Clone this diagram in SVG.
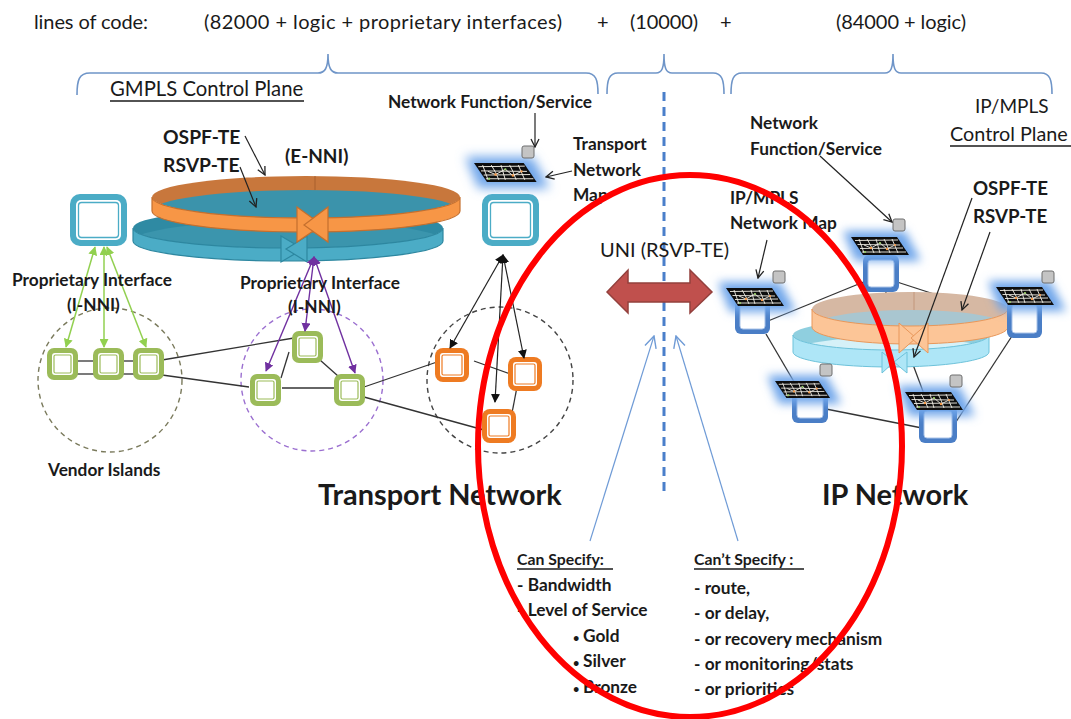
<svg xmlns="http://www.w3.org/2000/svg" xmlns:xlink="http://www.w3.org/1999/xlink" width="1071" height="719" viewBox="0 0 1071 719">
  <style>
    .t { font-family: Lato, "Liberation Sans", sans-serif; fill: #1a1a1a; }
    .b { font-weight: 700; }
    .lbl { font-weight: 700; font-size: 17.3px; }
    .dot { font-size: 11px; }
    .brace { fill: none; stroke: #6f95c8; stroke-width: 1.6; }
    .link { stroke: #333; stroke-width: 1.3; fill: none; }
    .ptr { stroke: #222; stroke-width: 1.2; fill: none; }
    .ul { stroke: #1a1a1a; stroke-width: 1.4; }
    .sq { fill: #c4c4c4; stroke: #6f6f6f; stroke-width: 1; }
  </style>
  <defs>
    <filter id="glow" x="-50%" y="-100%" width="200%" height="300%">
      <feGaussianBlur stdDeviation="5"/>
    </filter>
    <marker id="openK" viewBox="0 0 10 10" refX="9" refY="5" markerWidth="10" markerHeight="10" markerUnits="userSpaceOnUse" orient="auto">
      <path d="M1,1 L9,5 L1,9" fill="none" stroke="#222" stroke-width="1.3"/>
    </marker>
    <marker id="solidK" viewBox="0 0 10 10" refX="9" refY="5" markerWidth="9" markerHeight="9" markerUnits="userSpaceOnUse" orient="auto-start-reverse">
      <path d="M0,0 L10,5 L0,10 z" fill="#111"/>
    </marker>
    <marker id="solidG" viewBox="0 0 10 10" refX="9" refY="5" markerWidth="9" markerHeight="9" markerUnits="userSpaceOnUse" orient="auto-start-reverse">
      <path d="M0,0 L10,5 L0,10 z" fill="#92d050"/>
    </marker>
    <marker id="solidP" viewBox="0 0 10 10" refX="9" refY="5" markerWidth="9" markerHeight="9" markerUnits="userSpaceOnUse" orient="auto-start-reverse">
      <path d="M0,0 L10,5 L0,10 z" fill="#7030a0"/>
    </marker>
    <marker id="openB" viewBox="0 0 12 12" refX="11" refY="6" markerWidth="14" markerHeight="14" markerUnits="userSpaceOnUse" orient="auto">
      <path d="M1,1 L11,6 L1,11" fill="none" stroke="#6f9bd6" stroke-width="1.2"/>
    </marker>

    <!-- network map tile: glowing black grid -->
    <g id="map">
      <polygon points="-8,-6 54,-6 70,24 4,24" fill="#6fa6ea" filter="url(#glow)"/>
      <polygon points="0,0 46,0 58,18 12,18" fill="#0d0d0d"/>
      <path d="M4,3.5 L47,3 M6.5,7.5 L49,8 M9,11.5 L52,11 M11,15 L55,15 M8,2 L13,16 M16,2 L20,9 L23,16 M25,2 L29,16 M33,2 L36,8 L39,16 M41,2 L47,16 M13,8 L20,11 L29,6 L36,12 L44,8" stroke="#f2efe6" stroke-width="0.9" fill="none"/>
      <circle cx="20" cy="11" r="1.2" fill="#f59a4a"/>
      <circle cx="36" cy="12" r="1.2" fill="#f59a4a"/>
      <circle cx="29" cy="6" r="1.1" fill="#9bd36a"/>
      <circle cx="44" cy="8" r="1.1" fill="#f59a4a"/>
      <circle cx="14" cy="15" r="1.1" fill="#9bd36a"/>
    </g>
    <!-- transport (GMPLS) controller box -->
    <g id="tbox">
      <rect x="0" y="0" width="57" height="52" rx="10" fill="#4bacc6"/>
      <rect x="6" y="6" width="45" height="40" rx="5" fill="#fff"/>
      <rect x="8.5" y="8.5" width="40" height="35" rx="3" fill="none" stroke="#4bacc6" stroke-width="1.3"/>
    </g>
    <g id="gbox">
      <rect x="0" y="0" width="31" height="32" rx="7" fill="#9bbb59"/>
      <rect x="5" y="5" width="21" height="22" rx="3" fill="#fff"/>
      <rect x="7" y="7" width="17" height="18" rx="1.5" fill="none" stroke="#9bbb59" stroke-width="1.2"/>
    </g>
    <g id="obox">
      <rect x="0" y="0" width="34" height="34" rx="8" fill="#ee7b22"/>
      <rect x="5" y="5" width="24" height="24" rx="3" fill="#fff"/>
      <rect x="7" y="7" width="20" height="20" rx="1.5" fill="none" stroke="#ee7b22" stroke-width="1.2"/>
    </g>
    <clipPath id="clipTO"><ellipse cx="306" cy="197" rx="154" ry="21"/></clipPath>
    <clipPath id="clipTT"><ellipse cx="288" cy="228" rx="155" ry="20"/></clipPath>
    <clipPath id="clipIO"><ellipse cx="910" cy="309" rx="98" ry="17"/></clipPath>
    <clipPath id="clipIC"><ellipse cx="891" cy="335" rx="98" ry="15"/></clipPath>
  </defs>

  <rect width="1071" height="719" fill="#fff"/>

  <!-- code size header -->
  <g id="header">
    <text class="t" x="34" y="29" font-size="20" textLength="114" lengthAdjust="spacing">lines of code:</text>
    <text class="t" x="204" y="29" font-size="20" textLength="358" lengthAdjust="spacing">(82000 + logic + proprietary interfaces)</text>
    <text class="t" x="597" y="29" font-size="20">+</text>
    <text class="t" x="630" y="29" font-size="20" textLength="68" lengthAdjust="spacing">(10000)</text>
    <text class="t" x="720" y="29" font-size="20">+</text>
    <text class="t" x="836" y="29" font-size="20" textLength="130" lengthAdjust="spacing">(84000 + logic)</text>
    <path class="brace" d="M77,95 C77,80 79,73 90,73 L318,73 C325,73 328,68 328,54 C328,68 331,73 338,73 L586,73 C596,73 598,80 598,94"/>
    <path class="brace" d="M607,94 C607,80 609,73 618,73 L656,73 C662,73 664,68 664,54 C664,68 666,73 672,73 L713,73 C722,73 724,80 724,94"/>
    <path class="brace" d="M731,94 C731,80 733,73 742,73 L885,73 C891,73 893,68 893,54 C893,68 895,73 901,73 L1041,73 C1050,73 1052,80 1052,94"/>
  </g>

  <!-- UNI boundary -->
  <line id="boundary" x1="664" y1="92" x2="664" y2="495" stroke="#4a7fca" stroke-width="3" stroke-dasharray="9 6"/>

  <!-- vendor / domain circles -->
  <g id="domains" fill="none" stroke-width="1.4" stroke-dasharray="5 4">
    <circle cx="110" cy="380" r="72" stroke="#7a7a5c"/>
    <circle cx="312" cy="380" r="71" stroke="#9b6fd0"/>
    <circle cx="500" cy="380" r="73" stroke="#444"/>
  </g>

  <!-- links between network elements -->
  <g id="connectors-links">
    <line class="link" x1="76" y1="361" x2="94" y2="361"/>
    <line class="link" x1="76" y1="374" x2="94" y2="374"/>
    <line class="link" x1="123" y1="361" x2="134" y2="361"/>
    <line class="link" x1="123" y1="374" x2="134" y2="374"/>
    <line class="link" x1="162" y1="360" x2="294" y2="338"/>
    <line class="link" x1="162" y1="375" x2="249" y2="387"/>
    <line class="link" x1="289" y1="352" x2="281" y2="378"/>
    <line class="link" x1="320" y1="360" x2="338" y2="376"/>
    <line class="link" x1="282" y1="388" x2="334" y2="388"/>
    <line class="link" x1="364" y1="387" x2="437" y2="362"/>
    <line class="link" x1="364" y1="397" x2="484" y2="430"/>
    <line class="link" x1="474" y1="361" x2="513" y2="375"/>
    <line class="link" x1="517" y1="387" x2="512" y2="413"/>
    <line class="link" x1="768" y1="321" x2="866" y2="281"/>
    <line class="link" x1="897" y1="282" x2="1008" y2="318"/>
    <line class="link" x1="885" y1="290" x2="930" y2="410"/>
    <line class="link" x1="766" y1="334" x2="800" y2="392"/>
    <line class="link" x1="826" y1="409" x2="922" y2="428"/>
    <line class="link" x1="1012" y1="336" x2="952" y2="428"/>
  </g>

  <!-- GMPLS control plane ring (E-NNI) -->
  <g id="ring-gmpls">
    <!-- teal ring -->
    <ellipse cx="288" cy="228" rx="155" ry="20" fill="#2f8aa3"/>
    <ellipse cx="288" cy="241" rx="155" ry="20" fill="#3b95ad" clip-path="url(#clipTT)"/>
    <path d="M133,228 A155,20 0 0 0 443,228 L443,241 A155,20 0 0 1 133,241 Z" fill="#4bacc6" stroke="#2d87a0" stroke-width="1.2"/>
    <polygon points="281,236 303,249 281,262" fill="#4bacc6" stroke="#2d87a0" stroke-width="1.2"/>
    <polygon points="307,236 286,249 307,262" fill="#4bacc6" stroke="#2d87a0" stroke-width="1.2"/>
    <!-- orange ring -->
    <ellipse cx="306" cy="197" rx="154" ry="21" fill="#c8773c"/>
    <ellipse cx="306" cy="211" rx="154" ry="21" fill="#3b93ab" clip-path="url(#clipTO)"/>
    <line x1="315" y1="176" x2="315" y2="190" stroke="#a8602c" stroke-width="1"/>
    <path d="M152,197 A154,21 0 0 0 460,197 L460,211 A154,21 0 0 1 152,211 Z" fill="#f79646" stroke="#c46f2e" stroke-width="1.2"/>
    <polygon points="297,207 322,225 297,242" fill="#f79646" stroke="#c46f2e" stroke-width="1.2"/>
    <polygon points="328,207 304,225 328,242" fill="#f79646" stroke="#c46f2e" stroke-width="1.2"/>
  </g>

  <!-- IP/MPLS control plane ring -->
  <g id="ring-ip">
    <ellipse cx="891" cy="335" rx="98" ry="15" fill="#8fcfdf"/>
    <ellipse cx="891" cy="352" rx="98" ry="15" fill="#d5f1f8" clip-path="url(#clipIC)"/>
    <path d="M793,335 A98,15 0 0 0 989,335 L989,352 A98,15 0 0 1 793,352 Z" fill="#aee6f7" stroke="#6dc2da" stroke-width="1"/>
    <polygon points="882,352 894,362 882,373" fill="#aee6f7" stroke="#6dc2da" stroke-width="1"/>
    <polygon points="907,352 894,362 907,373" fill="#aee6f7" stroke="#6dc2da" stroke-width="1"/>
    <ellipse cx="910" cy="309" rx="98" ry="17" fill="#d6b8a3"/>
    <ellipse cx="910" cy="327" rx="98" ry="17" fill="#a9c6d0" clip-path="url(#clipIO)"/>
    <line x1="914" y1="292" x2="914" y2="310" stroke="#c2967a" stroke-width="1"/>
    <line x1="897" y1="327" x2="897" y2="343" stroke="#7fb0c0" stroke-width="1"/>
    <path d="M812,309 A98,17 0 0 0 1008,309 L1008,327 A98,17 0 0 1 812,327 Z" fill="#fcc597" stroke="#e8975a" stroke-width="1"/>
    <polygon points="899,323 916,338 899,353" fill="#fcc597" stroke="#e8975a" stroke-width="1"/>
    <polygon points="928,323 911,338 928,353" fill="#fcc597" stroke="#e8975a" stroke-width="1"/>
  </g>

  <!-- transport network elements -->
  <g id="gmpls-ctrl-left"><use xlink:href="#tbox" x="70" y="194"/></g>
  <g id="gmpls-ctrl-right"><use xlink:href="#tbox" x="482" y="194"/></g>
  <g id="transport-map">
    <use xlink:href="#map" transform="translate(474,163) scale(1.08,1.05)"/>
    <rect class="sq" x="522" y="146" width="12" height="12" rx="2"/>
  </g>
  <g id="vendor-1"><use xlink:href="#gbox" x="47" y="348"/></g>
  <g id="vendor-2"><use xlink:href="#gbox" x="93" y="348"/></g>
  <g id="vendor-3"><use xlink:href="#gbox" x="133" y="348"/></g>
  <g id="gmpls-1"><use xlink:href="#gbox" x="292" y="331"/></g>
  <g id="gmpls-2"><use xlink:href="#gbox" x="250" y="374"/></g>
  <g id="gmpls-3"><use xlink:href="#gbox" x="334" y="374"/></g>
  <g id="optical-1"><use xlink:href="#obox" x="435" y="348"/></g>
  <g id="optical-2"><use xlink:href="#obox" x="508" y="357"/></g>
  <g id="optical-3"><use xlink:href="#obox" x="482" y="409"/></g>

  <!-- IP routers with their network maps -->
  <g id="router-a">
    <rect x="735" y="298" width="35" height="36" rx="6" fill="#4a7ec6"/>
    <rect x="740" y="303" width="25" height="26" rx="3" fill="#fff" stroke="#a9c3e8" stroke-width="1"/>
    <use xlink:href="#map" transform="translate(726,288)"/>
    <rect class="sq" x="773" y="271" width="12" height="12" rx="2"/>
  </g>
  <g id="router-b">
    <rect x="863" y="255" width="36" height="37" rx="6" fill="#4a7ec6"/>
    <rect x="868" y="260" width="26" height="27" rx="3" fill="#fff" stroke="#a9c3e8" stroke-width="1"/>
    <use xlink:href="#map" transform="translate(851,237)"/>
    <rect class="sq" x="893" y="219" width="12" height="12" rx="2"/>
  </g>
  <g id="router-c">
    <rect x="1007" y="300" width="35" height="38" rx="6" fill="#4a7ec6"/>
    <rect x="1012" y="305" width="25" height="28" rx="3" fill="#fff" stroke="#a9c3e8" stroke-width="1"/>
    <use xlink:href="#map" transform="translate(996,287)"/>
    <rect class="sq" x="1042" y="271" width="12" height="12" rx="2"/>
  </g>
  <g id="router-d">
    <rect x="792" y="388" width="36" height="35" rx="6" fill="#4a7ec6"/>
    <rect x="797" y="393" width="26" height="25" rx="3" fill="#fff" stroke="#a9c3e8" stroke-width="1"/>
    <use xlink:href="#map" transform="translate(775,381) scale(0.95)"/>
    <rect class="sq" x="820" y="364" width="12" height="12" rx="2"/>
  </g>
  <g id="router-e">
    <rect x="919" y="406" width="38" height="37" rx="6" fill="#4a7ec6"/>
    <rect x="924" y="411" width="28" height="27" rx="3" fill="#fff" stroke="#a9c3e8" stroke-width="1"/>
    <use xlink:href="#map" transform="translate(905,392)"/>
    <rect class="sq" x="950" y="375" width="12" height="12" rx="2"/>
  </g>

  <!-- UNI double arrow -->
  <g id="uni-arrow">
    <polygon points="607,292 628,270 628,283 690,283 690,270 712,292 690,313 690,302 628,302 628,313" fill="#c0504d" stroke="#93403d" stroke-width="1.5"/>
  </g>

  <!-- control-plane and pointer arrows -->
  <g id="connectors-arrows">
    <line x1="95" y1="247" x2="66" y2="347" stroke="#92d050" stroke-width="1.5" marker-start="url(#solidG)" marker-end="url(#solidG)"/>
    <line x1="104" y1="247" x2="104" y2="347" stroke="#92d050" stroke-width="1.5" marker-start="url(#solidG)" marker-end="url(#solidG)"/>
    <line x1="107" y1="247" x2="146" y2="347" stroke="#92d050" stroke-width="1.5" marker-start="url(#solidG)" marker-end="url(#solidG)"/>
    <line x1="314" y1="257" x2="266" y2="371" stroke="#7030a0" stroke-width="1.4" marker-start="url(#solidP)" marker-end="url(#solidP)"/>
    <line x1="314" y1="257" x2="305" y2="331" stroke="#7030a0" stroke-width="1.4" marker-start="url(#solidP)" marker-end="url(#solidP)"/>
    <line x1="314" y1="257" x2="355" y2="373" stroke="#7030a0" stroke-width="1.4" marker-start="url(#solidP)" marker-end="url(#solidP)"/>
    <line x1="503" y1="255" x2="450" y2="348" stroke="#222" stroke-width="1.2" marker-start="url(#solidK)" marker-end="url(#solidK)"/>
    <line x1="503" y1="255" x2="495" y2="402" stroke="#222" stroke-width="1.2" marker-start="url(#solidK)" marker-end="url(#solidK)"/>
    <line x1="503" y1="255" x2="524" y2="358" stroke="#222" stroke-width="1.2" marker-start="url(#solidK)" marker-end="url(#solidK)"/>
    <line class="ptr" x1="245" y1="136" x2="265" y2="175" marker-end="url(#openK)"/>
    <line class="ptr" x1="240" y1="167" x2="256" y2="207" marker-end="url(#openK)"/>
    <line class="ptr" x1="535" y1="113" x2="535" y2="147" marker-end="url(#openK)"/>
    <line class="ptr" x1="572" y1="171" x2="546" y2="177" marker-end="url(#openK)"/>
    <line class="ptr" x1="820" y1="156" x2="892" y2="222" marker-end="url(#openK)"/>
    <line class="ptr" x1="767" y1="240" x2="758" y2="278" marker-end="url(#openK)"/>
    <line class="ptr" x1="972" y1="198" x2="914" y2="357" marker-end="url(#openK)"/>
    <line class="ptr" x1="990" y1="232" x2="962" y2="310" marker-end="url(#openK)"/>
    <line x1="590" y1="541" x2="654" y2="336" stroke="#6f9bd6" stroke-width="1.2" marker-end="url(#openB)"/>
    <line x1="738" y1="541" x2="676" y2="336" stroke="#6f9bd6" stroke-width="1.2" marker-end="url(#openB)"/>
  </g>

  <!-- labels -->
  <g id="labels">
    <text class="t" x="110" y="96" font-size="20.3">GMPLS Control Plane</text>
    <line class="ul" x1="110" y1="101" x2="304" y2="101"/>
    <text class="t lbl" x="388" y="108">Network Function/Service</text>
    <text class="t lbl" x="573" y="150">Transport</text>
    <text class="t lbl" x="573" y="176">Network</text>
    <text class="t lbl" x="573" y="201">Map</text>
    <text class="t b" x="163" y="144" font-size="19.3">OSPF-TE</text>
    <text class="t b" x="163" y="172" font-size="19.3">RSVP-TE</text>
    <text class="t b" x="285" y="163" font-size="19">(E-NNI)</text>
    <text class="t lbl" x="12" y="286">Proprietary Interface</text>
    <text class="t lbl" x="67" y="311">(I-NNI)</text>
    <text class="t lbl" x="240" y="289">Proprietary Interface</text>
    <text class="t lbl" x="288" y="313">(I-NNI)</text>
    <text class="t lbl" x="48" y="476" font-size="17.8">Vendor Islands</text>
    <text class="t b" x="318" y="505" font-size="28.9">Transport Network</text>
    <text class="t b" x="822" y="505" font-size="28.9">IP Network</text>
    <text class="t" x="600" y="257" font-size="20">UNI (RSVP-TE)</text>
    <text class="t" x="975" y="113" font-size="19">IP/MPLS</text>
    <text class="t" x="950" y="141" font-size="19.8">Control Plane</text>
    <line class="ul" x1="950" y1="146" x2="1071" y2="146"/>
    <text class="t lbl" x="750" y="129">Network</text>
    <text class="t lbl" x="750" y="155">Function/Service</text>
    <text class="t lbl" x="730" y="204">IP/MPLS</text>
    <text class="t lbl" x="730" y="229">Network Map</text>
    <text class="t b" x="973" y="195" font-size="18.7">OSPF-TE</text>
    <text class="t b" x="973" y="223" font-size="18.7">RSVP-TE</text>
    <text class="t b" x="517" y="565" font-size="15.8">Can Specify:</text>
    <line class="ul" x1="517" y1="569" x2="613" y2="569"/>
    <text class="t lbl" x="517" y="591">- Bandwidth</text>
    <text class="t lbl" x="517" y="616">- Level of Service</text>
    <text class="t lbl" x="573" y="642"><tspan class="dot">•</tspan><tspan x="583">Gold</tspan></text>
    <text class="t lbl" x="573" y="667"><tspan class="dot">•</tspan><tspan x="583">Silver</tspan></text>
    <text class="t lbl" x="573" y="693"><tspan class="dot">•</tspan><tspan x="583">Bronze</tspan></text>
    <text class="t b" x="694" y="565" font-size="15.8">Can’t Specify :</text>
    <line class="ul" x1="694" y1="569" x2="804" y2="569"/>
    <text class="t lbl" x="694" y="594">- route,</text>
    <text class="t lbl" x="694" y="619">- or delay,</text>
    <text class="t lbl" x="694" y="645">- or recovery mechanism</text>
    <text class="t lbl" x="694" y="670">- or monitoring/stats</text>
    <text class="t lbl" x="694" y="695">- or priorities</text>
  </g>

  <!-- highlight of the UNI scope -->
  <ellipse id="uni-highlight" cx="690" cy="446" rx="212" ry="271" fill="none" stroke="#ff0000" stroke-width="6"/>
</svg>
